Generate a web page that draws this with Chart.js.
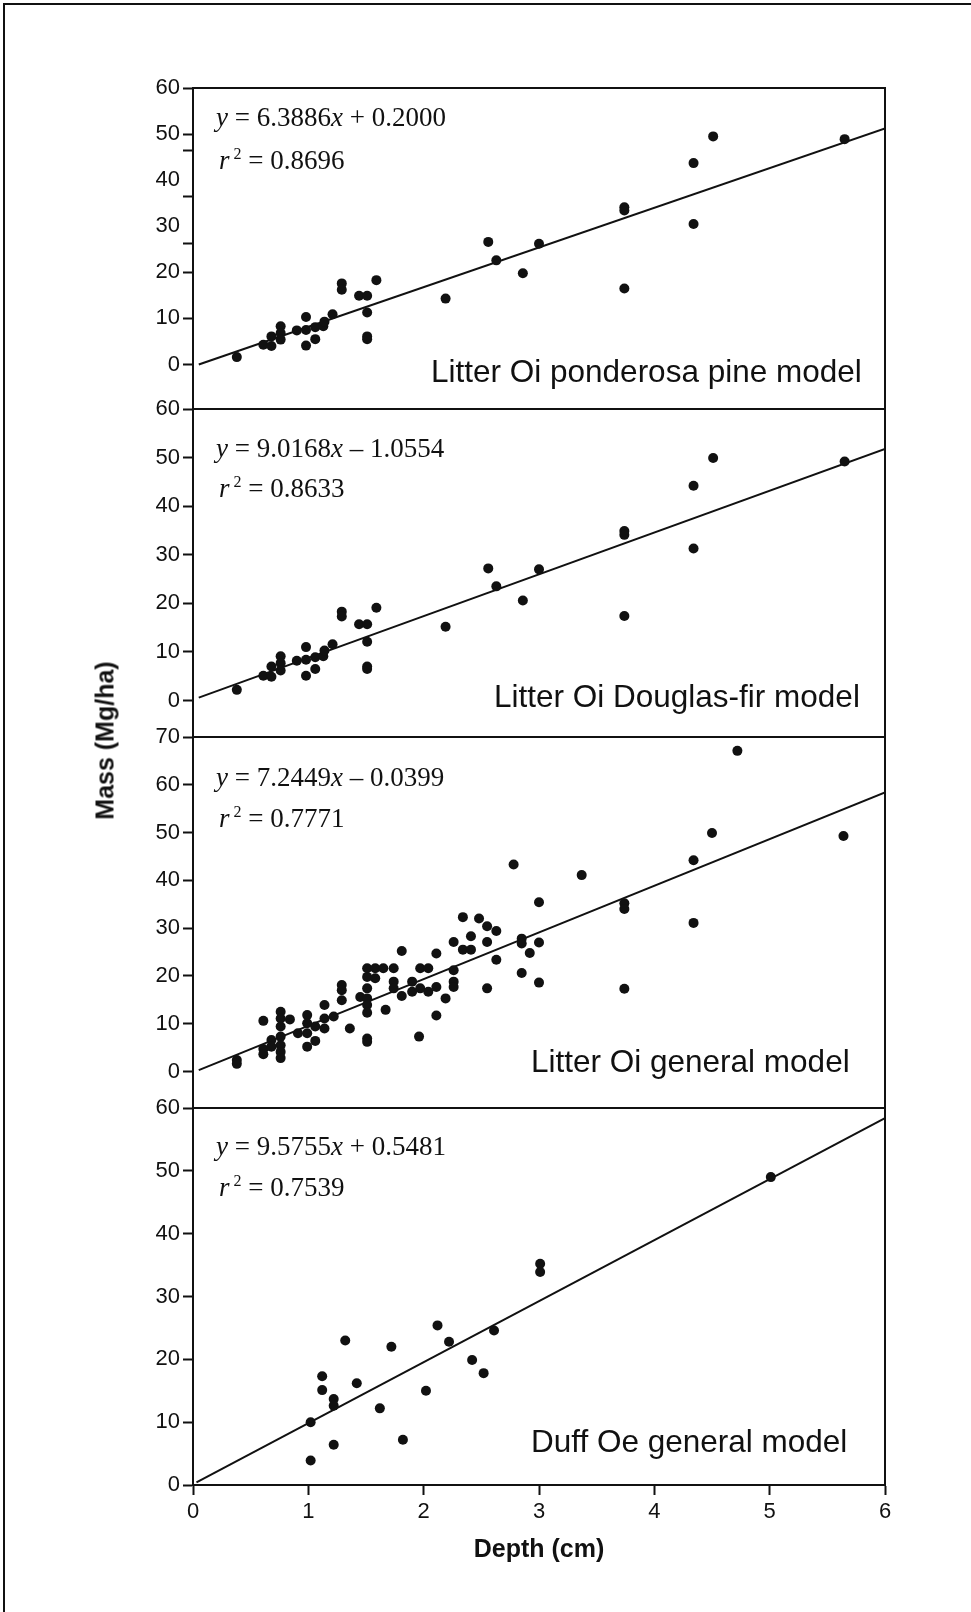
<!DOCTYPE html>
<html>
<head>
<meta charset="utf-8">
<script src="https://cdn.jsdelivr.net/npm/chart.js@4.4.1/dist/chart.umd.min.js"></script>
<style>
    html, body { margin: 0; padding: 0; background: #fff; }
    #page { position: relative; width: 971px; height: 1612px; overflow: hidden; }
    #edge { position: absolute; left: 3px; top: 3px; width: 1000px; height: 1700px;
            border-top: 2px solid #111; border-left: 2px solid #111; }
    canvas { position: absolute; left: 0; }
    #ytitle { position: absolute; left: -45px; top: 726px; width: 300px; line-height: 30px;
              text-align: center; transform: rotate(-90deg);
              font: bold 25px "Liberation Sans", Arial, sans-serif; color: #111; }
</style>
</head>
<body>
<div id="page">
    <div id="edge"></div>
    <canvas id="c1"></canvas>
    <canvas id="c2"></canvas>
    <canvas id="c3"></canvas>
    <canvas id="c4"></canvas>
    <div id="ytitle">Mass (Mg/ha)</div>
</div>
<script>
// litter Oi, ponderosa pine
const ppX = [0.38, 0.61, 0.68, 0.68, 0.76, 0.76, 0.76, 0.90, 0.98, 0.98, 0.98, 1.06, 1.06, 1.13, 1.14, 1.21,
    1.29, 1.29, 1.44, 1.51, 1.51, 1.51, 1.51, 1.59, 2.19, 2.56, 2.63, 2.86, 3.00, 3.74, 3.74, 3.74,
    4.34, 4.34, 4.51, 5.65];
const ppY = [1.6, 4.3, 6.1, 4.0, 8.3, 6.8, 5.4, 7.4, 10.3, 7.5, 4.1, 8.1, 5.5, 8.3, 9.3, 10.9,
    17.6, 16.2, 14.9, 14.9, 11.3, 6.1, 5.5, 18.3, 14.3, 26.6, 22.6, 19.8, 26.2, 34.1, 33.4, 16.5,
    43.7, 30.5, 49.5, 48.9];
const ppFitX = [0.05, 6];
const ppFitY = [0.0, 51.2];

// litter Oi, Douglas-fir
const dfX = [0.38, 0.61, 0.68, 0.68, 0.76, 0.76, 0.76, 0.90, 0.98, 0.98, 0.98, 1.06, 1.06, 1.13, 1.14, 1.21,
    1.29, 1.29, 1.44, 1.51, 1.51, 1.51, 1.51, 1.59, 2.19, 2.56, 2.63, 2.86, 3.00, 3.74, 3.74, 3.74,
    4.34, 4.34, 4.51, 5.65];
const dfY = [2.2, 5.1, 7.0, 4.9, 9.1, 7.7, 6.2, 8.2, 11.0, 8.4, 5.1, 8.9, 6.5, 9.1, 10.3, 11.6,
    18.3, 17.3, 15.7, 15.7, 12.1, 7.0, 6.5, 19.1, 15.2, 27.2, 23.5, 20.6, 27.0, 34.9, 34.1, 17.4,
    44.2, 31.3, 49.9, 49.2];
const dfFitX = [0.05, 6];
const dfFitY = [0.6, 51.8];

// litter Oi, general
const genX = [0.38, 0.38, 0.61, 0.61, 0.61, 0.68, 0.68, 0.76, 0.76, 0.76, 0.76, 0.76, 0.76, 0.76,
    0.84, 0.91, 0.99, 0.99, 0.99, 0.99, 1.06, 1.06, 1.14, 1.14, 1.14, 1.22, 1.29, 1.29, 1.29, 1.36,
    1.45, 1.51, 1.51, 1.51, 1.51, 1.51, 1.51, 1.51, 1.51, 1.58, 1.58, 1.65, 1.67, 1.74, 1.74, 1.74,
    1.81, 1.81, 1.90, 1.90, 1.96, 1.97, 1.97, 2.04, 2.04, 2.11, 2.11, 2.11, 2.19, 2.26, 2.26, 2.26,
    2.26, 2.34, 2.34, 2.41, 2.41, 2.48, 2.55, 2.55, 2.55, 2.63, 2.63, 2.78, 2.85, 2.85, 2.85, 2.92,
    3.00, 3.00, 3.00, 3.37, 3.74, 3.74, 3.74, 4.34, 4.34, 4.50, 4.72, 5.64];
const genY = [2.4, 1.6, 10.6, 4.7, 3.6, 6.6, 5.2, 12.5, 11.1, 9.4, 7.3, 5.5, 4.1, 2.8,
    10.9, 8.0, 11.8, 10.1, 8.0, 5.2, 9.4, 6.4, 13.9, 11.1, 9.0, 11.5, 18.1, 17.0, 14.9, 9.0,
    15.6, 21.6, 19.8, 17.4, 15.3, 13.9, 12.3, 6.9, 6.2, 21.6, 19.5, 21.6, 12.9, 21.6, 18.8, 17.4,
    25.2, 15.8, 18.8, 16.7, 7.3, 21.6, 17.4, 21.6, 16.7, 24.7, 17.7, 11.7, 15.3, 27.1, 21.2, 18.8,
    17.7, 32.3, 25.5, 28.3, 25.5, 32.0, 30.4, 27.1, 17.4, 29.4, 23.4, 43.3, 27.8, 26.8, 20.6, 24.8,
    35.4, 27.0, 18.6, 41.1, 35.2, 34.0, 17.3, 44.2, 31.1, 49.9, 67.1, 49.3];
const genFitX = [0.05, 6];
const genFitY = [0.3, 58.4];

// duff Oe, general
const duffX = [1.02, 1.02, 1.12, 1.12, 1.22, 1.22, 1.22, 1.32, 1.42, 1.62, 1.72, 1.82, 2.02, 2.12,
    2.22, 2.42, 2.52, 2.61, 3.01, 3.01, 5.01];
const duffY = [10.0, 3.9, 17.3, 15.1, 13.7, 12.6, 6.4, 23.0, 16.2, 12.2, 22.0, 7.2, 15.0, 25.4,
    22.8, 19.9, 17.8, 24.6, 35.2, 33.9, 49.0];
const duffFitX = [0.03, 6];
const duffFitY = [0.4, 58.4];

// ticks
const xTicks = [0, 1, 2, 3, 4, 5, 6];
const ticks60 = [0, 10, 20, 30, 40, 50, 60];
const ticks70 = [0, 10, 20, 30, 40, 50, 60, 70];
// the top panel has its middle tick marks shifted off the labels
const ppExtraMarks = [26.3, 36.5, 46.4];
const ppNoMark = [30, 40];

// text
const ppEq = ['6.3886', '+', '0.2000'], ppR2 = '0.8696', ppName = 'Litter Oi ponderosa pine model';
const dfEq = ['9.0168', '–', '1.0554'], dfR2 = '0.8633', dfName = 'Litter Oi Douglas-fir model';
const genEq = ['7.2449', '–', '0.0399'], genR2 = '0.7771', genName = 'Litter Oi general model';
const duffEq = ['9.5755', '+', '0.5481'], duffR2 = '0.7539', duffName = 'Duff Oe general model';

const SANS = '"Liberation Sans", Arial, sans-serif';
const SERIF = '"Liberation Serif", "Times New Roman", serif';
const INK = '#111';

const pts = (xs, ys) => xs.map((x, i) => ({x: x, y: ys[i]}));

const panels = [
    {id: 'c1', xs: ppX, ys: ppY, fx: ppFitX, fy: ppFitY, min: -9.66, max: 60, top: 88, bottom: 409,
        labels: ticks60, extra: ppExtraMarks, noMark: ppNoMark, eq: ppEq, r2: ppR2, name: ppName,
        eqY: 126, r2Y: 169, nameX: 431, nameY: 382},
    {id: 'c2', xs: dfX, ys: dfY, fx: dfFitX, fy: dfFitY, min: -7.5, max: 60, top: 409, bottom: 737,
        labels: ticks60, extra: [], noMark: [], eq: dfEq, r2: dfR2, name: dfName,
        eqY: 457, r2Y: 497, nameX: 494, nameY: 707},
    {id: 'c3', xs: genX, ys: genY, fx: genFitX, fy: genFitY, min: -7.64, max: 70, top: 737, bottom: 1108,
        labels: ticks70, extra: [], noMark: [], eq: genEq, r2: genR2, name: genName,
        eqY: 786, r2Y: 827, nameX: 531, nameY: 1072},
    {id: 'c4', xs: duffX, ys: duffY, fx: duffFitX, fy: duffFitY, min: 0, max: 60, top: 1108, bottom: 1485,
        labels: ticks60, extra: [], noMark: [], eq: duffEq, r2: duffR2, name: duffName,
        eqY: 1155, r2Y: 1196, nameX: 531, nameY: 1452, last: true}
];

const PAD = 20;
const XAXIS_H = 80;

const framePlugin = {
    id: 'frame',
    afterDraw(chart) {
        const {ctx, chartArea: a} = chart;
        ctx.save();
        ctx.strokeStyle = INK;
        ctx.lineWidth = 2;
        ctx.strokeRect(a.left, a.top, a.right - a.left, a.bottom - a.top);
        ctx.restore();
    }
};

function textPlugin(p, canvasTop) {
    return {
        id: 'panelText',
        afterDraw(chart) {
            const ctx = chart.ctx;
            ctx.save();
            ctx.fillStyle = INK;
            ctx.textBaseline = 'alphabetic';
            ctx.textAlign = 'left';

            // regression equation
            let x = 216, y = p.eqY - canvasTop;
            const put = (s, font) => {
                ctx.font = font;
                ctx.fillText(s, x, y);
                x += ctx.measureText(s).width;
            };
            put('y', 'italic 27px ' + SERIF);
            put(' = ' + p.eq[0], '27px ' + SERIF);
            put('x', 'italic 27px ' + SERIF);
            put(' ' + p.eq[1] + ' ' + p.eq[2], '27px ' + SERIF);

            // r squared
            x = 219; y = p.r2Y - canvasTop;
            put('r', 'italic 27px ' + SERIF);
            y -= 10;
            put(' 2', '16px ' + SERIF);
            y += 10;
            put(' = ' + p.r2, '27px ' + SERIF);

            // panel name
            ctx.font = '31.5px ' + SANS;
            ctx.fillText(p.name, p.nameX, p.nameY - canvasTop);
            ctx.restore();
        }
    };
}

panels.forEach((p) => {
    const canvas = document.getElementById(p.id);
    const canvasTop = p.top - PAD;
    const h = (p.bottom - p.top) + PAD * 2 + (p.last ? XAXIS_H : 0);
    canvas.width = 971;
    canvas.height = h;
    canvas.style.top = canvasTop + 'px';

    const allTicks = p.labels.concat(p.extra).sort((a, b) => a - b);

    new Chart(canvas, {
        type: 'scatter',
        data: {
            datasets: [
                {
                    data: pts(p.xs, p.ys),
                    pointRadius: 5,
                    pointBackgroundColor: INK,
                    pointBorderWidth: 0,
                    showLine: false
                },
                {
                    data: pts(p.fx, p.fy),
                    showLine: true,
                    borderColor: INK,
                    borderWidth: 2,
                    pointRadius: 0
                }
            ]
        },
        options: {
            responsive: false,
            animation: false,
            events: [],
            layout: {padding: {left: 0, right: 971 - 885, top: PAD, bottom: PAD}},
            plugins: {legend: {display: false}, tooltip: {enabled: false}},
            scales: {
                x: {
                    type: 'linear',
                    min: 0,
                    max: 6,
                    display: !!p.last,
                    afterBuildTicks: (s) => { s.ticks = xTicks.map((v) => ({value: v})); },
                    afterFit: (s) => { s.height = p.last ? XAXIS_H : 0; },
                    grid: {drawOnChartArea: false, drawTicks: true, tickLength: 10, tickColor: INK, tickWidth: 2},
                    border: {display: true, color: INK, width: 2},
                    ticks: {font: {family: SANS, size: 22}, color: INK, padding: 4, maxRotation: 0, autoSkip: false},
                    title: {display: true, text: 'Depth (cm)', color: INK, padding: 0,
                        font: {family: SANS, size: 25, weight: 'bold'}}
                },
                y: {
                    type: 'linear',
                    min: p.min,
                    max: p.max,
                    afterBuildTicks: (s) => { s.ticks = allTicks.map((v) => ({value: v})); },
                    afterFit: (s) => { s.width = 193; },
                    grid: {
                        drawOnChartArea: false,
                        drawTicks: true,
                        tickLength: 10,
                        tickWidth: 2,
                        tickColor: (c) => (c.tick && p.noMark.includes(c.tick.value)) ? 'rgba(0,0,0,0)' : INK
                    },
                    border: {display: true, color: INK, width: 2},
                    ticks: {
                        font: {family: SANS, size: 22},
                        color: INK,
                        padding: 3,
                        autoSkip: false,
                        callback: (v) => p.labels.includes(v) ? String(v) : ''
                    }
                }
            }
        },
        plugins: [framePlugin, textPlugin(p, canvasTop)]
    });
});
</script>
</body>
</html>
